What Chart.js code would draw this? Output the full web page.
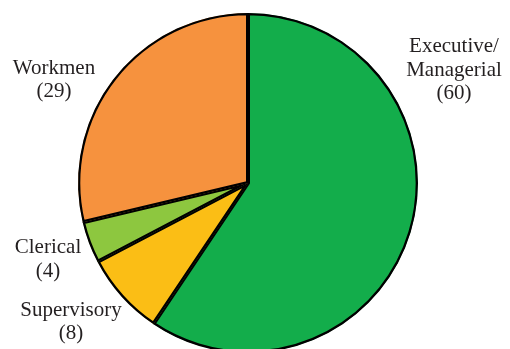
<!DOCTYPE html>
<html>
<head>
<meta charset="utf-8">
<script src="https://cdn.jsdelivr.net/npm/chart.js@4.4.1/dist/chart.umd.min.js"></script>
<style>
  html, body { margin: 0; padding: 0; background: #fff; overflow: hidden; }
  #wrap { width: 510px; height: 353px; position: relative; }
</style>
</head>
<body>
<div id="wrap"><canvas id="pie"></canvas></div>
<script>
// staff categories, going clockwise from 12 o'clock
const categories = ["Executive/Managerial", "Supervisory", "Clerical", "Workmen"];
const counts = [60, 8, 4, 29];
const sliceColors = ["#13ad4b", "#fbbe15", "#8dc73f", "#f6923e"];

// label lines drawn outside the pie (text, center x, baseline y)
const labelLines = [
  [["Executive/", 454, 52], ["Managerial", 454, 76], ["(60)", 454, 99]],
  [["Supervisory", 71, 316], ["(8)", 71, 339]],
  [["Clerical", 48, 253], ["(4)", 48, 277]],
  [["Workmen", 54, 74], ["(29)", 54, 97]],
];

const outsideLabels = {
  id: "outsideLabels",
  afterDraw(chart) {
    const ctx = chart.ctx;
    ctx.save();
    ctx.font = "21px 'Liberation Serif', 'Times New Roman', serif";
    ctx.fillStyle = "#231f20";
    ctx.textAlign = "center";
    ctx.textBaseline = "alphabetic";
    categories.forEach((c, i) => {
      labelLines[i].forEach(([txt, x, y]) => ctx.fillText(txt, x, y));
    });
    ctx.restore();
  },
};

new Chart(document.getElementById("pie").getContext("2d"), {
  type: "pie",
  data: {
    labels: categories,
    datasets: [{
      data: counts,
      backgroundColor: sliceColors,
      borderColor: "#000",
      borderWidth: 2,
      borderAlign: "inner",
    }],
  },
  options: {
    responsive: true,
    maintainAspectRatio: false,
    animation: false,
    layout: { padding: { left: 78, right: 92, top: 13, bottom: 0 } },
    plugins: {
      legend: { display: false },
      tooltip: { enabled: false },
    },
  },
  plugins: [outsideLabels],
});
</script>
</body>
</html>
